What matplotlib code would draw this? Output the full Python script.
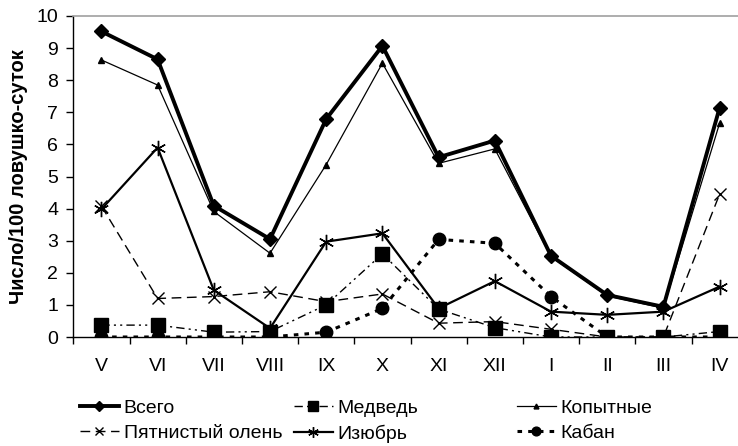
import numpy as np
import matplotlib; matplotlib.use("Agg")
import matplotlib.pyplot as plt

plt.rcParams["font.family"] = ["Liberation Sans", "DejaVu Sans"]

months = ["V", "VI", "VII", "VIII", "IX", "X", "XI", "XII", "I", "II", "III", "IV"]
vsego    = [9.52, 8.65, 4.09, 3.05, 6.79, 9.07, 5.60, 6.12, 2.53, 1.31, 0.94, 7.14]
medved   = [0.37, 0.37, 0.15, 0.17, 1.00, 2.59, 0.87, 0.29, 0.00, 0.00, 0.00, 0.17]
kopytnye = [8.63, 7.85, 3.91, 2.61, 5.37, 8.53, 5.41, 5.86, 2.50, 1.28, 0.90, 6.66]
olen     = [4.08, 1.20, 1.26, 1.41, 1.10, 1.34, 0.43, 0.48, 0.24, 0.00, 0.00, 4.45]
izubr    = [3.98, 5.90, 1.46, 0.27, 2.97, 3.23, 0.89, 1.74, 0.79, 0.69, 0.79, 1.57]
kaban    = [0.00, 0.00, 0.00, 0.00, 0.15, 0.89, 3.04, 2.92, 1.26, 0.00, 0.00, 0.00]

W, H = 738, 446
fig = plt.figure(figsize=(W / 100, H / 100), dpi=100)
ax = fig.add_axes([73.3 / W, 1 - 337 / H, (747.7 - 73.3) / W, 321 / H])
x = np.arange(len(months))

# draw order: thin ones below, total on top
l_olen, = ax.plot(x, olen, color="black", lw=1.0, dashes=(7, 4), marker="x", ms=9, mew=1.0,
                  label="Пятнистый олень", zorder=2)
l_med, = ax.plot(x, medved, color="black", lw=1.0, dashes=(6, 3, 1.5, 3, 1.5, 3), marker="s", ms=10,
                 label="Медведь", zorder=3)
l_kab, = ax.plot(x, kaban, color="black", lw=2.2, dashes=(1.5, 2), marker="o", ms=9,
                 label="Кабан", zorder=3)
l_izu, = ax.plot(x, izubr, color="black", lw=1.6, marker=(6, 2, 0), ms=11, mew=1.0,
                 label="Изюбрь", zorder=4)
l_kop, = ax.plot(x, kopytnye, color="black", lw=0.9, marker="^", ms=5,
                 label="Копытные", zorder=5)
l_vse, = ax.plot(x, vsego, color="black", lw=2.8, marker="D", ms=7,
                 label="Всего", zorder=6)

ax.set_xlim(-0.5, 11.5)
ax.set_ylim(0, 10)
ax.set_yticks(range(0, 11))
ax.set_xticks(x, months)
ax.set_xticks(np.arange(-0.5, 12, 1), minor=True)
ax.tick_params(axis="x", which="major", length=0, pad=15, labelsize=14)
ax.tick_params(axis="x", which="minor", length=5, width=1, direction="out")
ax.tick_params(axis="y", length=5, width=1, direction="out", pad=6, labelsize=14)
for s in ("left", "bottom"):
    ax.spines[s].set_linewidth(1.0)
ax.spines["right"].set_visible(False)
ax.spines["top"].set_color("#a0a0a0")
ax.spines["top"].set_linewidth(1.2)
ax.set_ylabel("Число/100 ловушко-суток", fontsize=14.5, fontweight="bold", labelpad=6)

kw = dict(frameon=False, fontsize=14, handlelength=2.0, handletextpad=0.25, labelspacing=0.4,
          markerscale=0.7, borderpad=0, borderaxespad=0, loc="upper left")
fig.legend(handles=[l_vse, l_olen], bbox_to_anchor=(80 / W, 1 - 399 / H), **kw)
fig.legend(handles=[l_med, l_izu], bbox_to_anchor=(294 / W, 1 - 399 / H), **kw)
fig.legend(handles=[l_kop, l_kab], bbox_to_anchor=(517 / W, 1 - 399 / H), **kw)

fig.savefig("out.png", dpi=100)
